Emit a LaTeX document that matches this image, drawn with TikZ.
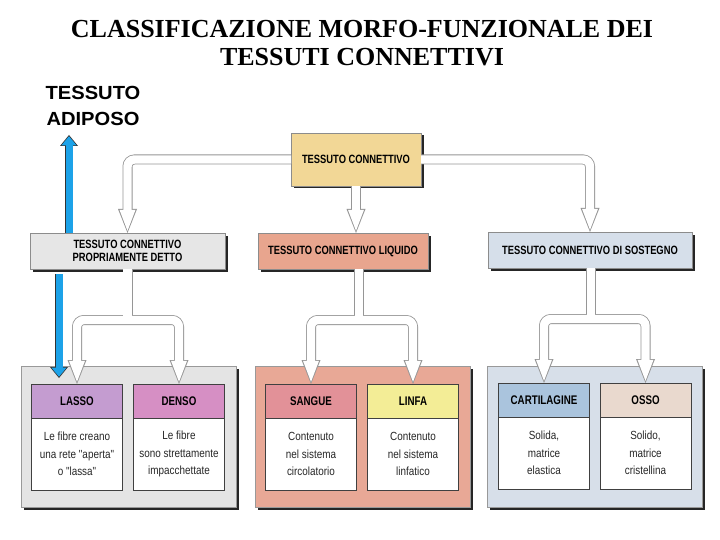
\documentclass[tikz,border=0pt]{standalone}
\usepackage{fontspec}
\setmainfont{Liberation Serif}
\newfontfamily\cond[FakeStretch=0.78]{Liberation Sans}
\newfontfamily\condtxt[FakeStretch=0.84]{Liberation Sans}
\newfontfamily\handfont[FakeStretch=1.06]{Liberation Sans}
\usetikzlibrary{arrows.meta, positioning, shadows}

\definecolor{connyellow}{RGB}{242,215,150}
\definecolor{propgrey}{RGB}{230,230,230}
\definecolor{liqsalmon}{RGB}{232,165,142}
\definecolor{sostblue}{RGB}{214,223,234}
\definecolor{grpgrey}{RGB}{228,228,228}
\definecolor{grpsalmon}{RGB}{232,168,150}
\definecolor{grpblue}{RGB}{215,223,233}
\definecolor{lassoc}{RGB}{196,156,208}
\definecolor{densoc}{RGB}{214,143,196}
\definecolor{sanguec}{RGB}{226,145,152}
\definecolor{linfac}{RGB}{243,237,150}
\definecolor{cartc}{RGB}{170,196,221}
\definecolor{ossoc}{RGB}{233,217,206}
\definecolor{adiposeblue}{RGB}{28,162,232}
\definecolor{pipegrey}{RGB}{150,150,150}

\tikzstyle{titletext} = [
    anchor=base,
    align=center,
    inner sep=0pt,
    font=\bfseries\fontsize{26}{28}\selectfont
]
\tikzstyle{handtext} = [
    anchor=base,
    align=center,
    inner sep=0pt,
    font=\handfont\bfseries\fontsize{19}{26}\selectfont
]
\tikzstyle{mainbox} = [
    rectangle,
    draw=black!45,
    line width=0.5pt,
    align=center,
    inner sep=2pt,
    outer sep=0pt,
    font=\cond\bfseries\fontsize{12}{13.5}\selectfont,
    drop shadow={shadow xshift=2.5pt, shadow yshift=-2.5pt, fill=black!85, opacity=1}
]
\tikzstyle{groupbox} = [
    rectangle,
    draw=black!40,
    line width=0.5pt,
    minimum width=215pt,
    minimum height=141pt,
    outer sep=0pt,
    drop shadow={shadow xshift=2.5pt, shadow yshift=-2.5pt, fill=black!85, opacity=1}
]
\tikzstyle{headbox} = [
    rectangle,
    draw=black!75,
    line width=0.7pt,
    minimum width=91pt,
    minimum height=34pt,
    inner sep=1pt,
    outer sep=0pt,
    font=\cond\bfseries\fontsize{12.5}{14}\selectfont
]
\tikzstyle{textbox} = [
    rectangle,
    draw=black!75,
    fill=white,
    line width=0.7pt,
    minimum width=91pt,
    minimum height=72pt,
    align=center,
    inner sep=1pt,
    outer sep=0pt,
    text=black!85,
    font=\condtxt\fontsize{11.8}{17.5}\selectfont
]
\tikzstyle{pipe} = [
    draw=white,
    line width=8.4pt,
    rounded corners=7pt,
    -{Triangle[length=21pt, width=16pt, line width=0pt]},
    shorten >=2.2pt,
    preaction={draw=pipegrey, line width=10pt,
        -{Triangle[length=24pt, width=19pt, line width=0pt]}, shorten >=0pt}
]
\tikzstyle{fork} = [
    draw=white,
    line width=8.4pt,
    rounded corners=7pt,
    {Triangle[length=21pt, width=16pt, line width=0pt]}-{Triangle[length=21pt, width=16pt, line width=0pt]},
    shorten >=2.2pt,
    shorten <=2.2pt,
    preaction={draw=pipegrey, line width=10pt,
        {Triangle[length=24pt, width=19pt, line width=0pt]}-{Triangle[length=24pt, width=19pt, line width=0pt]},
        shorten >=0pt, shorten <=0pt}
]
\tikzstyle{stem} = [
    draw=white,
    line width=8.4pt,
    preaction={draw=pipegrey, line width=10pt, shorten >=4.8pt}
]
\tikzstyle{bluearrow} = [
    draw=adiposeblue,
    line width=7pt,
    -{Triangle[length=9pt, width=15pt, line width=0pt]},
    shorten >=1.3pt,
    preaction={draw=black!80, line width=8.6pt,
        -{Triangle[length=11pt, width=18pt, line width=0pt]}, shorten >=0pt}
]

\begin{document}
\begin{tikzpicture}[x=1pt, y=-1pt]

\fill[white] (0,0) rectangle (720,540);
\useasboundingbox (0,0) rectangle (720,540);

\node (title) [titletext] at (362,66)
{CLASSIFICAZIONE MORFO-FUNZIONALE DEI\\TESSUTI CONNETTIVI};

\node (adiposo) [handtext] at (93,126) {TESSUTO\\ADIPOSO};

\node (grpA) [groupbox, fill=grpgrey] at (128.5,436.5) {};
\node (grpB) [groupbox, fill=grpsalmon] at (362.5,436.5) {};
\node (grpC) [groupbox, fill=grpblue] at (594.5,436.5) {};

\node (lasso) [headbox, fill=lassoc] at (77,401) {LASSO};
\node (lassotxt) [textbox, below=0pt of lasso]
{Le fibre creano\\una rete "aperta"\\o "lassa"};

\node (denso) [headbox, fill=densoc] at (179,401) {DENSO};
\node (densotxt) [textbox, below=0pt of denso]
{Le fibre\\sono strettamente\\impacchettate};

\node (sangue) [headbox, fill=sanguec] at (311,401) {SANGUE};
\node (sanguetxt) [textbox, below=0pt of sangue]
{Contenuto\\nel sistema\\circolatorio};

\node (linfa) [headbox, fill=linfac] at (413,401) {LINFA};
\node (linfatxt) [textbox, below=0pt of linfa]
{Contenuto\\nel sistema\\linfatico};

\node (cart) [headbox, fill=cartc] at (544,400) {CARTILAGINE};
\node (carttxt) [textbox, below=0pt of cart]
{Solida,\\matrice\\elastica};

\node (osso) [headbox, fill=ossoc] at (645.5,400) {OSSO};
\node (ossotxt) [textbox, below=0pt of osso]
{Solido,\\matrice\\cristellina};

\node (conn) [mainbox, fill=connyellow, minimum width=130pt, minimum height=53pt]
at (356,159.5) {TESSUTO CONNETTIVO};

\node (propdet) [mainbox, fill=propgrey, minimum width=195pt, minimum height=36pt]
at (127.5,251) {TESSUTO CONNETTIVO\\PROPRIAMENTE DETTO};

\node (liquido) [mainbox, fill=liqsalmon, minimum width=170pt, minimum height=36pt]
at (343,251) {TESSUTO CONNETTIVO LIQUIDO};

\node (sostegno) [mainbox, fill=sostblue, minimum width=204pt, minimum height=36pt]
at (590,250) {TESSUTO CONNETTIVO DI SOSTEGNO};

\coordinate (forkA) at (127.5,320);
\coordinate (forkB) at (359,320);
\coordinate (forkC) at (591,319);
\coordinate (adtip) at (69,135);
\coordinate (lassotip) at (59,378);

\draw [pipe] (conn.west) -| (propdet.north);
\draw [pipe] (conn.south) -- (conn.south |- liquido.north);
\draw [pipe] (conn.east) -| (sostegno.north);

\draw [fork] (lasso.north) |- (forkA) -| (denso.north);
\draw [stem] (propdet.south) -- (forkA);

\draw [fork] (sangue.north) |- (forkB) -| (linfa.north);
\draw [stem] (forkB |- liquido.south) -- (forkB);

\draw [fork] (cart.north) |- (forkC) -| (osso.north);
\draw [stem] (forkC |- sostegno.south) -- (forkC);

\draw [bluearrow] (propdet.north -| adtip) -- (adtip);
\draw [bluearrow, shorten <=5pt] (propdet.south -| lassotip) -- (lassotip);

\end{tikzpicture}
\end{document}
